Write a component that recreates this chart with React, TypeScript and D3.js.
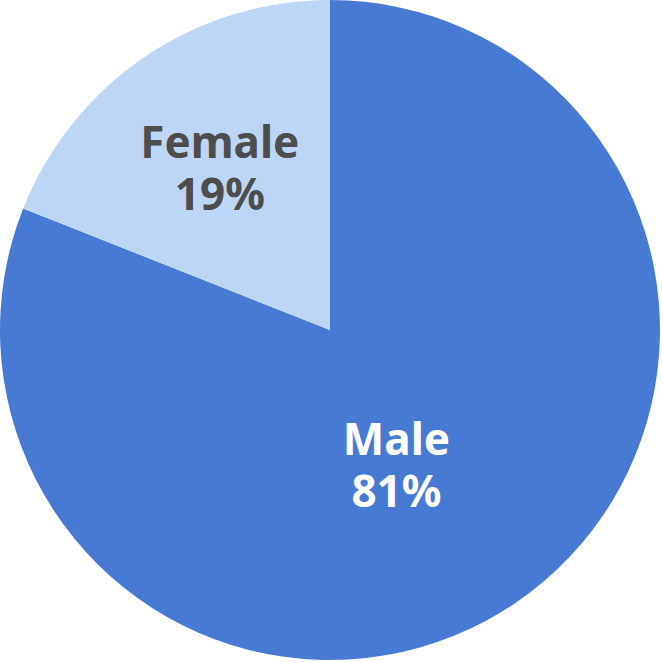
import * as d3 from "d3"

const categories = ["Male", "Female"]
const values = [81, 19]
const colors = ["#477bd3", "#bdd6f5"]
const textColors = ["#ffffff", "#4d4d4d"]

const size = 662
const cx = 330
const cy = 330
const radius = 330

type Slice = { label: string; value: number; i: number }

const App = () => {
  const data: Slice[] = categories.map((c, i) => ({ label: c, value: values[i], i }))

  const pie = d3
    .pie<Slice>()
    .value(d => d.value)
    .sort(null)

  const arcs = pie(data)
  const arc = d3.arc<d3.PieArcDatum<Slice>>().innerRadius(0).outerRadius(radius)

  // label placement: small slice further out, big slice nudged
  const labelPos = (a: d3.PieArcDatum<Slice>) => {
    const r = a.data.i === 0 ? radius * 0.45 : radius * 0.594
    const [x, y] = d3.arc().innerRadius(r).outerRadius(r).centroid(a as any)
    const nudge = a.data.i === 0 ? [-17, 12] : [0, 0]
    return [x + nudge[0], y + nudge[1]]
  }

  const textProps = (i: number) => ({
    textAnchor: "middle" as const,
    fontFamily: "'Noto Sans', sans-serif",
    fontWeight: 700,
    fontSize: 44,
    fill: textColors[i]
  })

  return (
    <svg width={size} height={size} style={{ position: "absolute", left: 0, top: 0 }}>
      <g transform={`translate(${cx},${cy})`}>
        {arcs.map(a => (
          <path key={a.data.label} d={arc(a) || ""} fill={colors[a.data.i]} />
        ))}
        {arcs.map(a => {
          const [x, y] = labelPos(a)
          return (
            <g key={"l" + a.data.label}>
              <text x={x} y={y - 10} {...textProps(a.data.i)}>
                {a.data.label}
              </text>
              <text x={x} y={y + 42} {...textProps(a.data.i)}>
                {a.data.value}%
              </text>
            </g>
          )
        })}
      </g>
    </svg>
  )
}

export default App
